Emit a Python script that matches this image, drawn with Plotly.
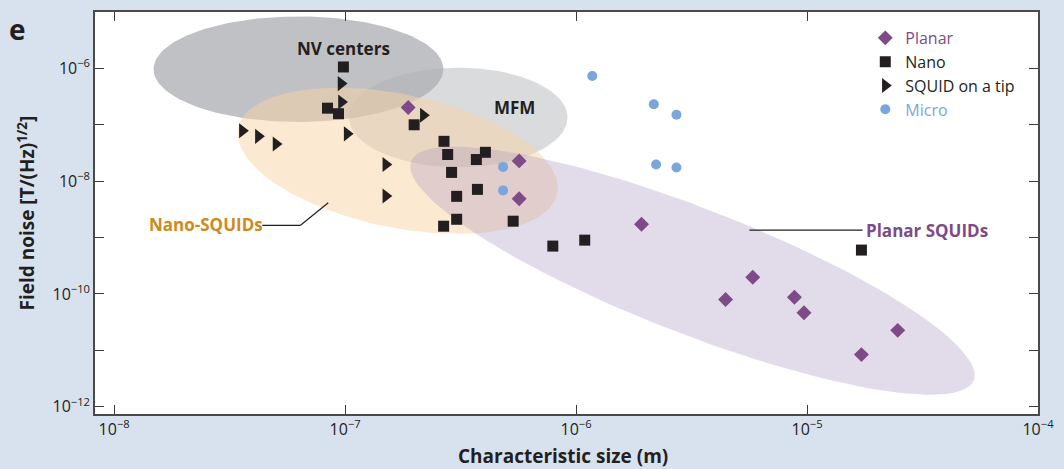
import numpy as np
import plotly.graph_objects as go

# ---------------- data ----------------
planar_size = [1.875e-7, 5.67e-7, 5.67e-7, 1.92e-6, 5.82e-6, 4.44e-6, 8.82e-6, 9.70e-6, 2.47e-5, 1.72e-5]
planar_noise = [2.03e-7, 2.29e-8, 4.88e-9, 1.72e-9, 1.97e-10, 7.96e-11, 8.74e-11, 4.63e-11, 2.26e-11, 8.4e-12]

nano_size = [9.83e-8, 8.39e-8, 9.36e-8, 1.99e-7, 2.68e-7, 2.78e-7, 3.70e-7, 4.05e-7, 2.89e-7,
             3.04e-7, 3.74e-7, 3.04e-7, 2.67e-7, 5.34e-7, 7.93e-7, 1.09e-6, 1.72e-5]
nano_noise = [1.06e-6, 1.97e-7, 1.57e-7, 1.0e-7, 5.09e-8, 2.97e-8, 2.42e-8, 3.25e-8, 1.43e-8,
              5.38e-9, 7.15e-9, 2.11e-9, 1.59e-9, 1.95e-9, 7.06e-10, 9.0e-10, 6.0e-10]

tip_size = [9.60e-8, 9.64e-8, 3.59e-8, 4.21e-8, 5.02e-8, 1.02e-7, 1.50e-7, 1.50e-7, 2.18e-7]
tip_noise = [5.37e-7, 2.54e-7, 7.86e-8, 6.23e-8, 4.56e-8, 6.9e-8, 1.97e-8, 5.45e-9, 1.48e-7]

micro_size = [1.175e-6, 2.17e-6, 2.72e-6, 2.22e-6, 2.72e-6, 4.83e-7, 4.83e-7]
micro_noise = [7.34e-7, 2.32e-7, 1.51e-7, 1.97e-8, 1.75e-8, 1.79e-8, 6.86e-9]

series_names = ["Planar", "Nano", "SQUID on a tip", "Micro"]

region_names = ["NV centers", "MFM", "Nano-SQUIDs", "Planar SQUIDs"]
region_center_size = [6.28e-8, 3.09e-7, 1.69e-7, 3.19e-6]
region_center_noise = [9.68e-7, 1.35e-7, 2.30e-8, 2.58e-10]

x_tick_vals = [1e-8, 1e-7, 1e-6, 1e-5, 1e-4]
x_tick_text = ["10<sup>−8</sup>", "10<sup>−7</sup>", "10<sup>−6</sup>", "10<sup>−5</sup>", "10<sup>−4</sup>"]
y_tick_vals = [1e-12, 1e-10, 1e-8, 1e-6]
y_tick_text = ["10<sup>−12</sup>", "10<sup>−10</sup>", "10<sup>−8</sup>", "10<sup>−6</sup>"]
y_minor_vals = [1e-11, 1e-9, 1e-7]

# ---------------- layout geometry / styles ----------------
W, H = 1064, 469
ML, MR, MT, MB = 95, 19, 10, 55
XR = [-8.083, -4.0]
YR = [-12.129, -5.0]
PW, PH = W - ML - MR, H - MT - MB
kx = PW / (XR[1] - XR[0])   # px per decade
ky = PH / (YR[1] - YR[0])

# region ellipse shapes: semi-axes in px, tilt in degrees (clockwise on screen)
region_a = [146, 110, 164, 304]
region_b = [53, 50, 67, 63]
region_tilt = [0, 0, 11.6, 21.2]
region_fill = ["rgba(150,152,157,0.60)", "rgba(172,175,180,0.45)",
               "rgba(250,212,165,0.50)", "rgba(168,148,190,0.33)"]

FONT = "Open Sans"
DARK = "#231f20"
PURPLE = "#7e4a87"
BLUE = "#7aa6db"
ORANGE = "#cf8a1b"


def ellipse(cs, cn, a, b, deg, n=160):
    t = np.linspace(0, 2 * np.pi, n)
    th = np.radians(deg)
    dx = a * np.cos(t) * np.cos(th) - b * np.sin(t) * np.sin(th)
    dy = a * np.cos(t) * np.sin(th) + b * np.sin(t) * np.cos(th)
    lx = np.log10(cs) + dx / kx
    ly = np.log10(cn) - dy / ky
    return 10 ** lx, 10 ** ly


fig = go.Figure()

for i in range(len(region_names)):
    ex, ey = ellipse(region_center_size[i], region_center_noise[i],
                     region_a[i], region_b[i], region_tilt[i])
    fig.add_trace(go.Scatter(x=ex, y=ey, mode="lines", fill="toself",
                             fillcolor=region_fill[i], line=dict(width=0),
                             hoverinfo="skip", showlegend=False))

fig.add_trace(go.Scatter(x=planar_size, y=planar_noise, mode="markers",
                         name=f"<span style='color:{PURPLE}'>{series_names[0]}</span>",
                         marker=dict(symbol="diamond", size=11.5, color=PURPLE)))
fig.add_trace(go.Scatter(x=nano_size, y=nano_noise, mode="markers",
                         name=series_names[1],
                         marker=dict(symbol="square", size=11, color=DARK)))
fig.add_trace(go.Scatter(x=tip_size, y=tip_noise, mode="markers",
                         name=series_names[2],
                         marker=dict(symbol="triangle-right", size=13, color=DARK)))
fig.add_trace(go.Scatter(x=micro_size, y=micro_noise, mode="markers",
                         name=f"<span style='color:{BLUE}'>{series_names[3]}</span>",
                         marker=dict(symbol="circle", size=10, color=BLUE)))


def xp(px):
    return (px - ML) / PW


def yp(py):
    return (H - MB - py) / PH


ann = []
lab_pos = [(345.5, 46.7, DARK), (517.7, 106, DARK), (207, 223.3, ORANGE), (933.3, 229.3, PURPLE)]
for name, (px, py, col) in zip(region_names, lab_pos):
    ann.append(dict(x=xp(px), y=yp(py), xref="paper", yref="paper", text=f"<b>{name}</b>",
                    showarrow=False, xanchor="center", yanchor="middle",
                    font=dict(family=FONT, size=17, color=col)))
ann.append(dict(x=xp(16.5), y=yp(27.5), xref="paper", yref="paper", text="<b>e</b>",
                showarrow=False, xanchor="center", yanchor="middle",
                font=dict(family=FONT, size=28, color=DARK)))
ann.append(dict(x=xp(566.7), y=yp(456), xref="paper", yref="paper",
                text="<b>Characteristic size (m)</b>", showarrow=False,
                xanchor="center", yanchor="middle",
                font=dict(family=FONT, size=19, color=DARK)))
ann.append(dict(x=xp(26), y=yp(212), xref="paper", yref="paper",
                text="<b>Field noise [T/(Hz)<sup>1/2</sup>]</b>", showarrow=False,
                textangle=-90, xanchor="center", yanchor="middle",
                font=dict(family=FONT, size=19, color=DARK)))

shapes = []
for (x0, y0, x1, y1) in [(263.5, 224.5, 301.7, 224.5), (301.7, 224.5, 330, 201.7),
                         (754.3, 229.3, 868.3, 229.3)]:
    shapes.append(dict(type="line", xref="paper", yref="paper", x0=xp(x0), y0=yp(y0),
                       x1=xp(x1), y1=yp(y1), line=dict(color=DARK, width=1.2)))

axis_common = dict(type="log", showgrid=False, zeroline=False, ticks="inside",
                   ticklen=9, tickwidth=1.3, tickcolor="#3a3a3a", showline=True,
                   linecolor="#4a4a4a", linewidth=1.6, mirror="ticks",
                   tickmode="array", tickfont=dict(family=FONT, size=16, color=DARK))

fig.update_layout(
    width=W, height=H, autosize=False,
    margin=dict(l=ML, r=MR, t=MT, b=MB),
    paper_bgcolor="#d8e2ee", plot_bgcolor="white",
    xaxis=dict(range=XR, tickvals=x_tick_vals, ticktext=x_tick_text, **axis_common),
    yaxis=dict(range=YR, tickvals=y_tick_vals, ticktext=y_tick_text,
               minor=dict(tickmode="array", tickvals=y_minor_vals, ticks="inside",
                          ticklen=9, tickwidth=1.3, tickcolor="#3a3a3a", showgrid=False),
               **axis_common),
    legend=dict(x=xp(871), y=yp(19), xanchor="left", yanchor="top",
                bgcolor="rgba(0,0,0,0)", font=dict(family=FONT, size=16, color=DARK)),
    annotations=ann, shapes=shapes,
)

fig.write_html("out.html",
               config={"displayModeBar": False, "responsive": False},
               post_script="document.body.style.margin='0';document.body.style.overflow='hidden';")
